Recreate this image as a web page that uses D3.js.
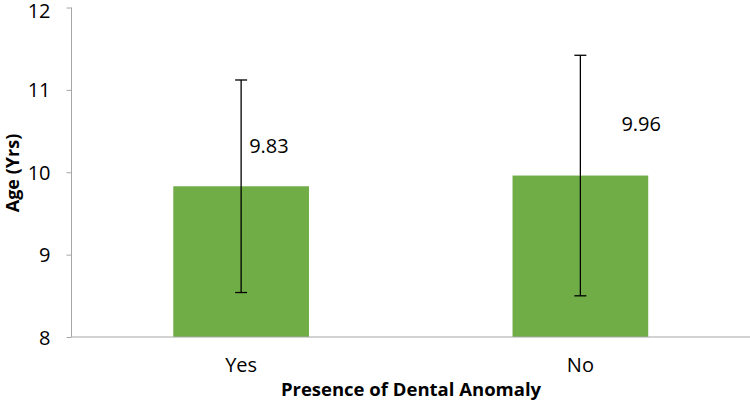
<!DOCTYPE html>
<html>
  <head>
    <meta charset="UTF-8" />
    <script src="https://cdnjs.cloudflare.com/ajax/libs/d3/7.8.5/d3.min.js"></script>
    <style>
      body { margin: 0; background: #fff; }
      text { font-family: "Open Sans", sans-serif; fill: #000; }
      .axis path, .axis line { stroke: #a6a6a6; }
    </style>
  </head>
  <body>
    <svg width="750" height="411"></svg>
    <script>
      const categories = ["Yes", "No"];
      const means = [9.83, 9.96];
      const errLow = [8.54, 8.5];
      const errHigh = [11.12, 11.42];
      const yTicks = [8, 9, 10, 11, 12];

      const svg = d3.select("svg");

      const x = d3.scaleBand()
        .domain(categories)
        .range([71.5, 750])
        .paddingInner(0.6)
        .paddingOuter(0.3);

      const y = d3.scaleLinear()
        .domain([8, 12])
        .range([337, 7.5]);

      // bars
      svg.selectAll("rect.bar")
        .data(categories)
        .enter()
        .append("rect")
        .attr("class", "bar")
        .attr("x", d => x(d))
        .attr("y", (d, i) => y(means[i]))
        .attr("width", x.bandwidth())
        .attr("height", (d, i) => y(8) - y(means[i]))
        .style("fill", "#70ad47");

      // y axis
      const yAxis = svg.append("g")
        .attr("class", "axis")
        .attr("transform", "translate(71.5,0)")
        .call(d3.axisLeft(y).tickValues(yTicks).tickSize(5).tickPadding(16).tickFormat(d3.format("d")));
      yAxis.select("path.domain").attr("d", "M0," + y(12) + "V" + y(8));
      yAxis.selectAll("text").style("font-size", "20px").attr("dy", "0.35em");
      // top label sits right at the edge; nudge it so it stays readable
      yAxis.selectAll("text").filter(d => d === 12).attr("dy", "0.5em");

      // x axis
      const xAxis = svg.append("g")
        .attr("class", "axis")
        .attr("transform", "translate(0," + y(8) + ")")
        .call(d3.axisBottom(x).tickSize(0).tickPadding(21));
      xAxis.select("path.domain").attr("d", "M71.5,0H750");
      xAxis.selectAll("text").style("font-size", "20px");

      // error bars
      const eb = svg.selectAll("g.err")
        .data(categories)
        .enter()
        .append("g")
        .attr("class", "err")
        .attr("transform", d => "translate(" + (x(d) + x.bandwidth() / 2) + ",0)")
        .style("stroke", "#000")
        .style("stroke-width", 1.3);
      eb.append("line")
        .attr("y1", (d, i) => y(errLow[i]))
        .attr("y2", (d, i) => y(errHigh[i]));
      eb.append("line")
        .attr("x1", -6).attr("x2", 6)
        .attr("y1", (d, i) => y(errHigh[i]))
        .attr("y2", (d, i) => y(errHigh[i]));
      eb.append("line")
        .attr("x1", -6).attr("x2", 6)
        .attr("y1", (d, i) => y(errLow[i]))
        .attr("y2", (d, i) => y(errLow[i]));

      // value labels (placed like the original, beside the error bars)
      const labelDx = [8, 41];
      const labelAt = [10.32, 10.59];
      svg.selectAll("text.val")
        .data(categories)
        .enter()
        .append("text")
        .attr("class", "val")
        .attr("x", (d, i) => x(d) + x.bandwidth() / 2 + labelDx[i])
        .attr("y", (d, i) => y(labelAt[i]))
        .attr("dy", "0.35em")
        .style("font-size", "20px")
        .text((d, i) => means[i].toFixed(2));

      // axis titles
      svg.append("text")
        .attr("x", 411)
        .attr("y", 396)
        .attr("text-anchor", "middle")
        .style("font-size", "18.5px")
        .style("font-weight", "bold")
        .text("Presence of Dental Anomaly");

      svg.append("text")
        .attr("transform", "translate(19,173) rotate(-90)")
        .attr("text-anchor", "middle")
        .style("font-size", "18px")
        .style("font-weight", "bold")
        .text("Age (Yrs)");
    </script>
  </body>
</html>
